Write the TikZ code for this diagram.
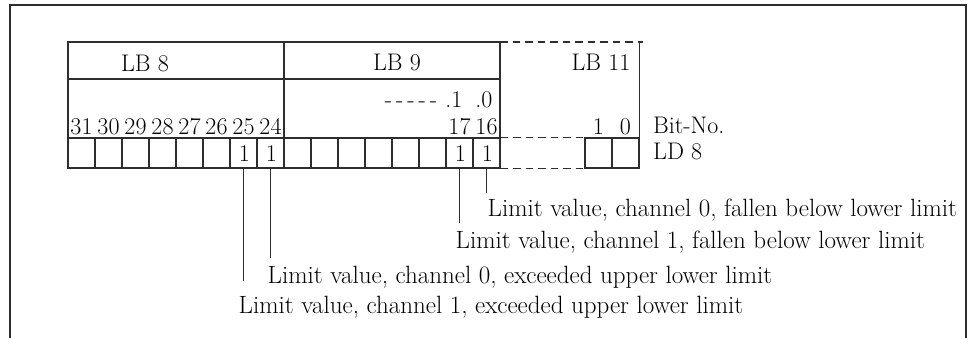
\documentclass[tikz,border=0pt]{standalone}
\usepackage{tikz}
\usetikzlibrary{positioning,calc}
\definecolor{ink}{HTML}{2E2E2E}
\newcommand{\bitfont}{\fontsize{24}{28}\selectfont}
\newcommand{\notefont}{\fontsize{25}{29}\selectfont}
\tikzset{
  frame/.style={draw=ink,line width=1.3pt},
  grid/.style={draw=ink,line width=1.3pt},
  gap/.style={draw=ink,line width=1.3pt,dash pattern=on 7.5pt off 5pt},
  cell/.style={draw=ink,line width=1.3pt,minimum width=27pt,minimum height=30pt,
               inner sep=0pt},
  bitno/.style={anchor=base,inner sep=0pt,font=\bitfont},
  lbl/.style={anchor=base,inner sep=0pt,font=\bitfont},
  lead/.style={draw=ink,line width=1.1pt},
  note/.style={anchor=base west,inner sep=0pt,font=\notefont}
}

\begin{document}
\begin{tikzpicture}[x=1pt,y=-1pt]
\useasboundingbox (0,0) rectangle (970,338);
\draw[frame] (10,338) -- (10,5) -- (966,5) -- (966,338);

% bit cells of LD 8
\foreach \b [count=\i from 0] in {31,30,...,16}
  \node[cell] (c\b) at (81.5+27*\i,153) {};
\node[cell] (c1) at (598.5,153) {};
\node[cell] (c0) at (625.5,153) {};

% byte frames
\draw[grid] (68,42) rectangle (500,168);
\draw[grid] (284,42) -- (284,168);
\draw[grid] (68,79) -- (500,79);
\draw[gap] (500,42) -- (643,42);
\draw[gap] (c16.north east) -- (c1.north west);
\draw[gap] (c16.south east) -- (c1.south west);
\draw[grid] (c0.east |- 0,42) -- (c0.north east);

\node[lbl] (lb8) at (145,71) {LB 8};
\node[lbl] (lb9) at (397,70) {LB 9};
\node[lbl] (lb11) at (601,70) {LB 11};

% bit numbers
\foreach \b in {31,30,...,24,17,16,1,0}
  \node[bitno] (n\b) at ($(c\b.north)+(0,-3)$) {\b};
\node[lbl] (d1) at (454,107) {.1};
\node[lbl] (d0) at (484,107) {.0};
\node[lbl,anchor=base east] (dots) at ($(d1.base west)+(-8,0)$) {-\,-\,-\,-\,-};
\node[lbl,anchor=base west] (bitno) at (653,133) {Bit-No.};
\node[lbl,anchor=base west] (ld8) at (653,159) {LD 8};

% set bits
\foreach \b in {25,24,17,16}
  \node[lbl] (v\b) at ($(c\b.center)+(1,8)$) {1};

% leader lines
\coordinate[below=24pt of c16.south] (e16);
\coordinate[below=54pt of c17.south] (e17);
\coordinate[below=89pt of c24.south] (e24);
\coordinate[below=112pt of c25.south] (e25);
\foreach \b in {16,17,24,25}
  \draw[lead] (c\b.south) -- (e\b);

\node[note] (t16) at ([shift={(1,24)}]e16) {Limit value, channel 0, fallen below lower limit};
\node[note] (t17) at ([shift={(-4,26)}]e17) {Limit value, channel 1, fallen below lower limit};
\node[note] (t24) at ([shift={(-3,26)}]e24) {Limit value, channel 0, exceeded upper lower limit};
\node[note] (t25) at ([shift={(-5,33)}]e25) {Limit value, channel 1, exceeded upper lower limit};
\end{tikzpicture}
\end{document}
